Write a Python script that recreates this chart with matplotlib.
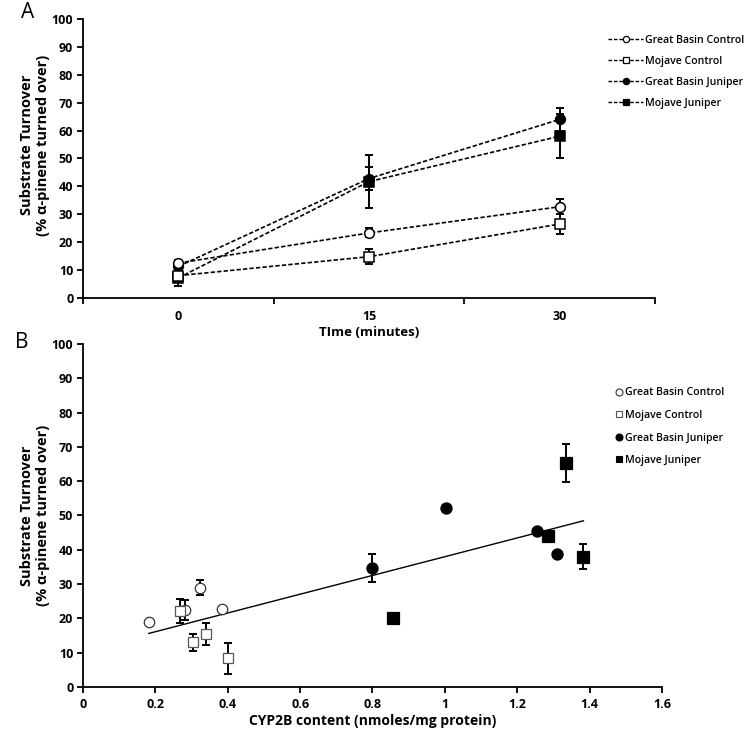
import numpy as np
import matplotlib
matplotlib.use("Agg")
import matplotlib.pyplot as plt
from matplotlib.ticker import FixedLocator

plt.rcParams['font.family'] = ['Open Sans', 'DejaVu Sans']

# Panel A: turnover over time (mean, error)
time_labels = ['0', '15', '30']
gb_control = [12.5, 23.3, 32.7]
gb_control_err = [1.0, 1.6, 2.6]
mj_control = [8.0, 14.8, 26.5]
mj_control_err = [1.0, 2.7, 3.5]
gb_juniper = [11.3, 42.8, 64.0]
gb_juniper_err = [1.0, 4.0, 4.0]
mj_juniper = [7.2, 41.7, 58.0]
mj_juniper_err = [3.0, 9.5, 8.0]

# Panel B: turnover vs CYP2B content
gbc_x = [0.182, 0.282, 0.324, 0.385]
gbc_y = [18.9, 22.5, 28.9, 22.6]
gbc_err = [0, 3.0, 2.2, 0]
mjc_x = [0.268, 0.304, 0.339, 0.400]
mjc_y = [22.2, 13.0, 15.5, 8.4]
mjc_err = [3.6, 2.4, 3.2, 4.5]
gbj_x = [0.800, 1.003, 1.256, 1.311]
gbj_y = [34.7, 52.1, 45.5, 38.9]
gbj_err = [4.2, 0, 0, 0]
mjj_x = [0.857, 1.284, 1.335, 1.383]
mjj_y = [20.0, 44.0, 65.4, 38.0]
mjj_err = [0, 0, 5.5, 3.7]

names = ['Great Basin Control', 'Mojave Control', 'Great Basin Juniper', 'Mojave Juniper']

fig = plt.figure(figsize=(7.49, 7.35), dpi=100)
axA = fig.add_axes([0.1108, 0.5946, 0.7637, 0.3796])
axB = fig.add_axes([0.1108, 0.0653, 0.7730, 0.4667])

spine_w = 1.3
dash = (0, (2.6, 1.3))

# ---- Panel A ----
xs = np.arange(len(time_labels))
seriesA = [
    (gb_control, gb_control_err, 'o', 'white', 7),
    (mj_control, mj_control_err, 's', 'white', 7.5),
    (gb_juniper, gb_juniper_err, 'o', 'black', 7),
    (mj_juniper, mj_juniper_err, 's', 'black', 7),
]
handlesA = []
for i, (vals, err, mk, fc, ms) in enumerate(seriesA):
    axA.errorbar(xs, vals, yerr=err, fmt='none', ecolor='black', elinewidth=1.4,
                 capsize=3, capthick=1.4, zorder=2)
    axA.plot(xs, vals, color='black', lw=1.2, linestyle=dash, zorder=3)
    axA.plot(xs, vals, linestyle='none', marker=mk, ms=ms, mfc=fc, mec='black',
             mew=1.1, zorder=5 if fc == 'white' else 4)
    h, = axA.plot([], [], color='black', lw=1.0, linestyle=dash, marker=mk,
                  ms=4.5, mfc=fc, mec='black', mew=0.9)
    handlesA.append(h)

axA.set_xlim(-0.5, 2.5)
axA.set_ylim(0, 100)
axA.set_xticks(xs)
axA.set_xticklabels(time_labels)
axA.xaxis.set_minor_locator(FixedLocator([-0.5, 0.5, 1.5, 2.5]))
axA.tick_params(axis='x', which='major', length=0, pad=9)
axA.tick_params(axis='x', which='minor', length=4, width=spine_w, direction='out')
axA.set_xlabel('TIme (minutes)', fontsize=9.5, fontweight='bold', labelpad=2)
axA.legend(handles=handlesA, labels=names, loc='upper left',
           bbox_to_anchor=(0.812, 0.953), bbox_transform=fig.transFigure,
           frameon=False, handlelength=3.3, handletextpad=0.2,
           labelspacing=0.95, borderaxespad=0, borderpad=0,
           prop={'size': 7.6, 'weight': 'semibold'})

# ---- Panel B ----
seriesB = [
    (gbc_x, gbc_y, gbc_err, 'o', 'white', 7.5, '#333333'),
    (mjc_x, mjc_y, mjc_err, 's', 'white', 7.5, '#555555'),
    (gbj_x, gbj_y, gbj_err, 'o', 'black', 8, 'black'),
    (mjj_x, mjj_y, mjj_err, 's', 'black', 8, 'black'),
]
all_x = np.concatenate([gbc_x, mjc_x, gbj_x, mjj_x])
all_y = np.concatenate([gbc_y, mjc_y, gbj_y, mjj_y])
slope, intercept = np.polyfit(all_x, all_y, 1)
fit_x = np.array([all_x.min(), all_x.max()])
axB.plot(fit_x, slope * fit_x + intercept, color='black', lw=1.0, zorder=2)

handlesB = []
for (x, y, err, mk, fc, ms, ec) in seriesB:
    x = np.array(x); y = np.array(y); err = np.array(err)
    has = err > 0
    axB.errorbar(x[has], y[has], yerr=err[has], fmt='none', ecolor='black',
                 elinewidth=1.4, capsize=3, capthick=1.4, zorder=3)
    axB.plot(x, y, linestyle='none', marker=mk, ms=ms, mfc=fc, mec=ec,
             mew=0.9, zorder=4)
    h, = axB.plot([], [], linestyle='none', marker=mk, ms=5, mfc=fc, mec=ec, mew=0.8)
    handlesB.append(h)

axB.set_xlim(0, 1.6)
axB.set_ylim(0, 100)
axB.set_xticks(np.arange(0, 1.61, 0.2))
axB.set_xticklabels(['0', '0.2', '0.4', '0.6', '0.8', '1', '1.2', '1.4', '1.6'])
axB.tick_params(axis='x', length=4, width=spine_w, direction='out', pad=4)
axB.set_xlabel('CYP2B content (nmoles/mg protein)', fontsize=10, fontweight='bold',
               labelpad=2)
axB.legend(handles=handlesB, labels=names, loc='upper left',
           bbox_to_anchor=(0.822, 0.473), bbox_transform=fig.transFigure,
           frameon=False, handlelength=0.6, handletextpad=0.3,
           labelspacing=1.1, borderaxespad=0, borderpad=0,
           prop={'size': 7.6, 'weight': 'semibold'})

for ax, lx, ly in ((axA, -0.058, 0.548), (axB, -0.057, 0.5)):
    for s in ('top', 'right'):
        ax.spines[s].set_visible(False)
    for s in ('left', 'bottom'):
        ax.spines[s].set_linewidth(spine_w)
    ax.set_yticks(np.arange(0, 101, 10))
    ax.tick_params(axis='y', length=4, width=spine_w, direction='out', pad=3)
    for lab in ax.get_xticklabels() + ax.get_yticklabels():
        lab.set_fontweight('bold')
        lab.set_fontsize(9)
    ax.set_ylabel('Substrate Turnover\n(% \u03b1-pinene turned over)', fontsize=10.5,
                  fontweight='bold', linespacing=1.2)
    ax.yaxis.set_label_coords(lx, ly)

fig.text(28 / 749, 1 - 13 / 735, 'A', fontsize=15, ha='center', va='center')
fig.text(22 / 749, 1 - 343 / 735, 'B', fontsize=15, ha='center', va='center')

fig.savefig('out.png', dpi=100)
